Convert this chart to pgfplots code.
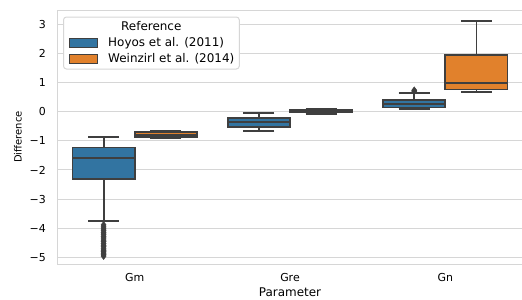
\documentclass[border=0pt]{standalone}
\usepackage{fontspec}
\setmainfont{DejaVu Sans}
\usepackage{pgfplots}
\pgfplotsset{compat=1.18}
\usepgfplotslibrary{statistics}
\definecolor{sbblue}{RGB}{50,116,161}
\definecolor{sborange}{RGB}{225,129,44}
\definecolor{edge}{RGB}{63,63,63}
\definecolor{gridc}{RGB}{214,214,214}
\begin{document}
\begin{tikzpicture}
\path[use as bounding box] (0,0) rectangle (522bp,300bp);
\begin{axis}[
  at={(57bp,36bp)}, anchor=south west, scale only axis,
  width=466bp, height=254bp,
  xmin=-0.5, xmax=2.5, ymin=-5.22, ymax=3.48,
  xtick={0,1,2}, xticklabels={Gm,Gre,Gn},
  ytick={-5,-4,-3,-2,-1,0,1,2,3},
  yticklabels={−5,−4,−3,−2,−1,0,1,2,3},
  major tick length=0pt,
  ymajorgrids, grid style={draw=gridc, line width=1bp},
  axis line style={draw=gridc, line width=1bp},
  tick label style={font=\fontsize{11}{13}\selectfont, inner sep=0pt},
  yticklabel style={anchor=east, xshift=-11bp},
  xticklabel style={anchor=north, yshift=-9.5bp},
  xlabel={Parameter}, ylabel={Difference},
  label style={inner sep=0pt},
  xlabel style={font=\fontsize{12}{14}\selectfont, at={(axis description cs:0.5,-0.0945)}, anchor=north},
  ylabel style={font=\fontsize{10}{12}\selectfont, at={(axis description cs:-0.0751,0.5)}, anchor=south},
  legend style={draw=gridc, line width=1bp, fill=white,
    rounded corners=3bp, font=\fontsize{12}{14}\selectfont,
    at={(0,1)}, anchor=north west, xshift=6bp, yshift=-6.5bp,
    inner xsep=5bp, inner ysep=4bp, row sep=4bp, column sep=10bp,
    nodes={inner sep=0pt, text height=9bp, text depth=3bp}},
  legend cell align=left,
  boxplot/draw direction=y,
  boxplot/every box/.style={draw=edge, line width=1.8bp},
  boxplot/every whisker/.style={draw=edge, line width=1.8bp},
  boxplot/every median/.style={draw=edge, line width=1.8bp},
  boxc/.style={draw=edge, line width=1.8bp, mark=diamond*, mark size=3.4bp,
    mark options={fill=edge, draw=edge, line width=0.5bp}, forget plot},
]
% Hoyos et al. (2011)
\addplot[boxc, fill=sbblue, boxplot prepared={draw position=-0.2, lower whisker=-3.74, lower quartile=-2.32, median=-1.58, upper quartile=-1.23, upper whisker=-0.88, box extend=0.4, whisker extend=0.2}]
  coordinates {(0,-3.88) (0,-3.95) (0,-4.02) (0,-4.08) (0,-4.15) (0,-4.20) (0,-4.27) (0,-4.33) (0,-4.40) (0,-4.45) (0,-4.52) (0,-4.58) (0,-4.63) (0,-4.70) (0,-4.75) (0,-4.80) (0,-4.85) (0,-4.90) (0,-4.95)};
\addplot[boxc, fill=sbblue, boxplot prepared={draw position=0.8, lower whisker=-0.67, lower quartile=-0.52, median=-0.36, upper quartile=-0.21, upper whisker=-0.06, box extend=0.4, whisker extend=0.2}]
  coordinates {};
\addplot[boxc, fill=sbblue, boxplot prepared={draw position=1.8, lower whisker=0.09, lower quartile=0.14, median=0.27, upper quartile=0.39, upper whisker=0.63, box extend=0.4, whisker extend=0.2}]
  coordinates {(0,0.70) (0,0.73)};
% Weinzirl et al. (2014)
\addplot[boxc, fill=sborange, boxplot prepared={draw position=0.2, lower whisker=-0.92, lower quartile=-0.87, median=-0.79, upper quartile=-0.70, upper whisker=-0.66, box extend=0.4, whisker extend=0.2}]
  coordinates {};
\addplot[boxc, fill=sborange, boxplot prepared={draw position=1.2, lower whisker=-0.07, lower quartile=-0.03, median=0.01, upper quartile=0.05, upper whisker=0.08, box extend=0.4, whisker extend=0.2}]
  coordinates {};
\addplot[boxc, fill=sborange, boxplot prepared={draw position=2.2, lower whisker=0.66, lower quartile=0.76, median=0.99, upper quartile=1.94, upper whisker=3.09, box extend=0.4, whisker extend=0.2}]
  coordinates {};
\addlegendimage{empty legend}
\addlegendimage{legend image code/.code={\draw[fill=sbblue, draw=edge, line width=1.2bp, sharp corners] (0bp,-4.5bp) rectangle (28.5bp,4.5bp);}}
\addlegendimage{legend image code/.code={\draw[fill=sborange, draw=edge, line width=1.2bp, sharp corners] (0bp,-4.5bp) rectangle (28.5bp,4.5bp);}}
\legend{\hspace*{13bp}Reference, Hoyos et al. (2011), Weinzirl et al. (2014)}
\end{axis}
\end{tikzpicture}
\end{document}
